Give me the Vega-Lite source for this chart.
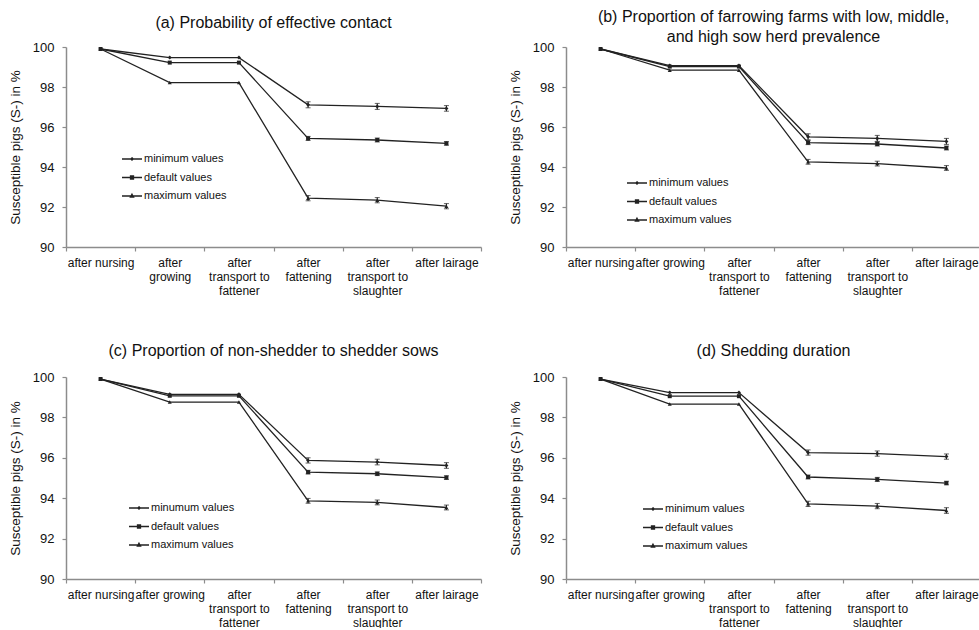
{
  "$schema": "https://vega.github.io/schema/vega-lite/v6.json",
  "background": "white",
  "padding": {"left": 8, "top": 9, "right": 0, "bottom": 0},
  "config": {
    "view": {"stroke": null},
    "font": "Liberation Sans",
    "axis": {"grid": false, "domainColor": "#8c8c8c", "domainWidth": 1.5, "tickColor": "#8c8c8c", "tickWidth": 1.2, "tickSize": 4, "labelColor": "#111", "titleColor": "#111", "titleFontWeight": "normal", "labelFont": "Liberation Sans", "titleFont": "Liberation Sans"},
    "axisY": {"labelFontSize": 13, "titleFontSize": 13.5, "labelPadding": 8, "titlePadding": 10, "values": [90, 92, 94, 96, 98, 100]},
    "axisX": {"labelFontSize": 12, "labelAngle": 0, "labelPadding": 6, "labelLineHeight": 14, "labelBaseline": "top", "tickBand": "extent", "labelOverlap": false, "title": null},
    "title": {"fontSize": 16, "fontWeight": "normal", "font": "Liberation Sans", "color": "#111", "frame": "group", "anchor": "middle", "lineHeight": 20},
    "legend": {"title": null, "orient": "none", "symbolSize": 400, "symbolStrokeWidth": 1.3, "symbolFillColor": "#222", "symbolStrokeColor": "#222", "labelFontSize": 11, "labelFont": "Liberation Sans", "labelColor": "#111", "rowPadding": 2.5, "labelOffset": 1}
  },
  "datasets": {
    "a": [
      {"stage": "after nursing", "series": "minimum values", "value": 99.9},
      {"stage": "after growing", "series": "minimum values", "value": 99.47},
      {"stage": "after transport to fattener", "series": "minimum values", "value": 99.47},
      {"stage": "after fattening", "series": "minimum values", "value": 97.11, "lo": 96.96, "hi": 97.26},
      {"stage": "after transport to slaughter", "series": "minimum values", "value": 97.03, "lo": 96.88, "hi": 97.18},
      {"stage": "after lairage", "series": "minimum values", "value": 96.93, "lo": 96.79, "hi": 97.07},
      {"stage": "after nursing", "series": "default values", "value": 99.9},
      {"stage": "after growing", "series": "default values", "value": 99.22},
      {"stage": "after transport to fattener", "series": "default values", "value": 99.22},
      {"stage": "after fattening", "series": "default values", "value": 95.43, "lo": 95.33, "hi": 95.53},
      {"stage": "after transport to slaughter", "series": "default values", "value": 95.35, "lo": 95.25, "hi": 95.45},
      {"stage": "after lairage", "series": "default values", "value": 95.18, "lo": 95.09, "hi": 95.27},
      {"stage": "after nursing", "series": "maximum values", "value": 99.9},
      {"stage": "after growing", "series": "maximum values", "value": 98.22},
      {"stage": "after transport to fattener", "series": "maximum values", "value": 98.22},
      {"stage": "after fattening", "series": "maximum values", "value": 92.44, "lo": 92.31, "hi": 92.57},
      {"stage": "after transport to slaughter", "series": "maximum values", "value": 92.34, "lo": 92.21, "hi": 92.47},
      {"stage": "after lairage", "series": "maximum values", "value": 92.04, "lo": 91.91, "hi": 92.17}
    ],
    "b": [
      {"stage": "after nursing", "series": "minimum values", "value": 99.9},
      {"stage": "after growing", "series": "minimum values", "value": 99.07},
      {"stage": "after transport to fattener", "series": "minimum values", "value": 99.07},
      {"stage": "after fattening", "series": "minimum values", "value": 95.51, "lo": 95.36, "hi": 95.66},
      {"stage": "after transport to slaughter", "series": "minimum values", "value": 95.43, "lo": 95.28, "hi": 95.58},
      {"stage": "after lairage", "series": "minimum values", "value": 95.28, "lo": 95.13, "hi": 95.43},
      {"stage": "after nursing", "series": "default values", "value": 99.9},
      {"stage": "after growing", "series": "default values", "value": 99.02},
      {"stage": "after transport to fattener", "series": "default values", "value": 99.02},
      {"stage": "after fattening", "series": "default values", "value": 95.22, "lo": 95.12, "hi": 95.32},
      {"stage": "after transport to slaughter", "series": "default values", "value": 95.15, "lo": 95.05, "hi": 95.25},
      {"stage": "after lairage", "series": "default values", "value": 94.95, "lo": 94.85, "hi": 95.05},
      {"stage": "after nursing", "series": "maximum values", "value": 99.9},
      {"stage": "after growing", "series": "maximum values", "value": 98.84},
      {"stage": "after transport to fattener", "series": "maximum values", "value": 98.84},
      {"stage": "after fattening", "series": "maximum values", "value": 94.26, "lo": 94.14, "hi": 94.38},
      {"stage": "after transport to slaughter", "series": "maximum values", "value": 94.17, "lo": 94.05, "hi": 94.29},
      {"stage": "after lairage", "series": "maximum values", "value": 93.95, "lo": 93.83, "hi": 94.07}
    ],
    "c": [
      {"stage": "after nursing", "series": "minumum values", "value": 99.9},
      {"stage": "after growing", "series": "minumum values", "value": 99.14},
      {"stage": "after transport to fattener", "series": "minumum values", "value": 99.14},
      {"stage": "after fattening", "series": "minumum values", "value": 95.87, "lo": 95.74, "hi": 96.0},
      {"stage": "after transport to slaughter", "series": "minumum values", "value": 95.79, "lo": 95.65, "hi": 95.93},
      {"stage": "after lairage", "series": "minumum values", "value": 95.62, "lo": 95.48, "hi": 95.76},
      {"stage": "after nursing", "series": "default values", "value": 99.9},
      {"stage": "after growing", "series": "default values", "value": 99.07},
      {"stage": "after transport to fattener", "series": "default values", "value": 99.07},
      {"stage": "after fattening", "series": "default values", "value": 95.29, "lo": 95.2, "hi": 95.38},
      {"stage": "after transport to slaughter", "series": "default values", "value": 95.21, "lo": 95.12, "hi": 95.3},
      {"stage": "after lairage", "series": "default values", "value": 95.02, "lo": 94.93, "hi": 95.11},
      {"stage": "after nursing", "series": "maximum values", "value": 99.9},
      {"stage": "after growing", "series": "maximum values", "value": 98.76},
      {"stage": "after transport to fattener", "series": "maximum values", "value": 98.76},
      {"stage": "after fattening", "series": "maximum values", "value": 93.87, "lo": 93.75, "hi": 93.99},
      {"stage": "after transport to slaughter", "series": "maximum values", "value": 93.79, "lo": 93.67, "hi": 93.91},
      {"stage": "after lairage", "series": "maximum values", "value": 93.54, "lo": 93.42, "hi": 93.66}
    ],
    "d": [
      {"stage": "after nursing", "series": "minimum values", "value": 99.9},
      {"stage": "after growing", "series": "minimum values", "value": 99.23},
      {"stage": "after transport to fattener", "series": "minimum values", "value": 99.23},
      {"stage": "after fattening", "series": "minimum values", "value": 96.26, "lo": 96.13, "hi": 96.39},
      {"stage": "after transport to slaughter", "series": "minimum values", "value": 96.21, "lo": 96.08, "hi": 96.34},
      {"stage": "after lairage", "series": "minimum values", "value": 96.06, "lo": 95.93, "hi": 96.19},
      {"stage": "after nursing", "series": "default values", "value": 99.9},
      {"stage": "after growing", "series": "default values", "value": 99.05},
      {"stage": "after transport to fattener", "series": "default values", "value": 99.05},
      {"stage": "after fattening", "series": "default values", "value": 95.05, "lo": 94.95, "hi": 95.15},
      {"stage": "after transport to slaughter", "series": "default values", "value": 94.93, "lo": 94.83, "hi": 95.03},
      {"stage": "after lairage", "series": "default values", "value": 94.75, "lo": 94.66, "hi": 94.84},
      {"stage": "after nursing", "series": "maximum values", "value": 99.9},
      {"stage": "after growing", "series": "maximum values", "value": 98.66},
      {"stage": "after transport to fattener", "series": "maximum values", "value": 98.66},
      {"stage": "after fattening", "series": "maximum values", "value": 93.72, "lo": 93.59, "hi": 93.85},
      {"stage": "after transport to slaughter", "series": "maximum values", "value": 93.61, "lo": 93.48, "hi": 93.74},
      {"stage": "after lairage", "series": "maximum values", "value": 93.39, "lo": 93.25, "hi": 93.53}
    ]
  },
  "columns": 2,
  "spacing": {"row": 47, "column": 26},
  "resolve": {"scale": {"x": "independent", "y": "independent", "shape": "independent"}, "legend": {"shape": "independent"}},
  "concat": [
    {
      "title": {"text": "(a) Probability of effective contact", "offset": 10},
      "width": 415, "height": 200,
      "data": {"name": "a"},
      "encoding": {
        "x": {"field": "stage", "type": "nominal", "sort": ["after nursing", "after growing", "after transport to fattener", "after fattening", "after transport to slaughter", "after lairage"], "scale": {"paddingInner": 0, "paddingOuter": 0},
          "axis": {"labelExpr": "datum.value == 'after growing' ? ['after', 'growing'] : datum.value == 'after transport to fattener' ? ['after', 'transport to', 'fattener'] : datum.value == 'after fattening' ? ['after', 'fattening'] : datum.value == 'after transport to slaughter' ? ['after', 'transport to', 'slaughter'] : datum.value"}}
      },
      "resolve": {"scale": {"shape": "independent"}, "legend": {"shape": "independent"}},
      "layer": [
        {"mark": {"type": "line", "color": "#222", "strokeWidth": 1.3},
         "encoding": {"y": {"field": "value", "type": "quantitative", "scale": {"domain": [90, 100]}, "axis": {"title": "Susceptible pigs (S-) in %"}}, "detail": {"field": "series"}}},
        {"transform": [{"filter": "isValid(datum.lo)"}],
         "mark": {"type": "errorbar", "color": "#222", "ticks": {"size": 5}, "rule": {"strokeWidth": 1.2}},
         "encoding": {"y": {"field": "lo", "type": "quantitative", "scale": {"domain": [90, 100]}, "title": "Susceptible pigs (S-) in %"}, "y2": {"field": "hi"}, "detail": {"field": "series"}}},
        {"mark": {"type": "point", "filled": true, "color": "#222", "opacity": 1, "size": 16},
         "encoding": {"y": {"field": "value", "type": "quantitative"}, "shape": {"field": "series", "type": "nominal", "scale": {"domain": ["minimum values", "default values", "maximum values"], "range": ["diamond", "square", "triangle-up"]}, "legend": null}}},
        {"transform": [{"filter": "datum.series == 'none'"}],
         "mark": {"type": "point", "filled": false, "color": "#222", "opacity": 1, "strokeWidth": 1.3, "size": 400},
         "encoding": {"y": {"field": "value", "type": "quantitative"}, "shape": {"field": "series", "type": "nominal", "scale": {"domain": ["minimum values", "default values", "maximum values"], "range": ["M-1,0H1M0,-0.12L0.12,0L0,0.12L-0.12,0Z", "M-1,0H1M-0.15,-0.15H0.15V0.15H-0.15Z", "M-1,0H1M0,-0.18L0.16,0.12H-0.16Z"]}, "legend": {"legendX": 55, "legendY": 101, "encode": {"symbols": {"update": {"stroke": {"value": "#222"}, "strokeWidth": {"value": 1.3}, "fill": {"value": "#222"}, "opacity": {"value": 1}}}}}}}}
      ]
    },
    {
      "title": {"text": ["(b) Proportion of farrowing farms with low, middle,", "and high sow herd prevalence"], "offset": -4},
      "width": 415, "height": 200,
      "data": {"name": "b"},
      "encoding": {
        "x": {"field": "stage", "type": "nominal", "sort": ["after nursing", "after growing", "after transport to fattener", "after fattening", "after transport to slaughter", "after lairage"], "scale": {"paddingInner": 0, "paddingOuter": 0},
          "axis": {"labelExpr": "datum.value == 'after transport to fattener' ? ['after', 'transport to', 'fattener'] : datum.value == 'after fattening' ? ['after', 'fattening'] : datum.value == 'after transport to slaughter' ? ['after', 'transport to', 'slaughter'] : datum.value"}}
      },
      "resolve": {"scale": {"shape": "independent"}, "legend": {"shape": "independent"}},
      "layer": [
        {"mark": {"type": "line", "color": "#222", "strokeWidth": 1.3},
         "encoding": {"y": {"field": "value", "type": "quantitative", "scale": {"domain": [90, 100]}, "axis": {"title": "Susceptible pigs (S-) in %"}}, "detail": {"field": "series"}}},
        {"transform": [{"filter": "isValid(datum.lo)"}],
         "mark": {"type": "errorbar", "color": "#222", "ticks": {"size": 5}, "rule": {"strokeWidth": 1.2}},
         "encoding": {"y": {"field": "lo", "type": "quantitative", "scale": {"domain": [90, 100]}, "title": "Susceptible pigs (S-) in %"}, "y2": {"field": "hi"}, "detail": {"field": "series"}}},
        {"mark": {"type": "point", "filled": true, "color": "#222", "opacity": 1, "size": 16},
         "encoding": {"y": {"field": "value", "type": "quantitative"}, "shape": {"field": "series", "type": "nominal", "scale": {"domain": ["minimum values", "default values", "maximum values"], "range": ["diamond", "square", "triangle-up"]}, "legend": null}}},
        {"transform": [{"filter": "datum.series == 'none'"}],
         "mark": {"type": "point", "filled": false, "color": "#222", "opacity": 1, "strokeWidth": 1.3, "size": 400},
         "encoding": {"y": {"field": "value", "type": "quantitative"}, "shape": {"field": "series", "type": "nominal", "scale": {"domain": ["minimum values", "default values", "maximum values"], "range": ["M-1,0H1M0,-0.12L0.12,0L0,0.12L-0.12,0Z", "M-1,0H1M-0.15,-0.15H0.15V0.15H-0.15Z", "M-1,0H1M0,-0.18L0.16,0.12H-0.16Z"]}, "legend": {"legendX": 60, "legendY": 125, "encode": {"symbols": {"update": {"stroke": {"value": "#222"}, "strokeWidth": {"value": 1.3}, "fill": {"value": "#222"}, "opacity": {"value": 1}}}}}}}}
      ]
    },
    {
      "title": {"text": "(c) Proportion of non-shedder to shedder sows", "offset": 12},
      "width": 415, "height": 202,
      "data": {"name": "c"},
      "encoding": {
        "x": {"field": "stage", "type": "nominal", "sort": ["after nursing", "after growing", "after transport to fattener", "after fattening", "after transport to slaughter", "after lairage"], "scale": {"paddingInner": 0, "paddingOuter": 0},
          "axis": {"labelExpr": "datum.value == 'after transport to fattener' ? ['after', 'transport to', 'fattener'] : datum.value == 'after fattening' ? ['after', 'fattening'] : datum.value == 'after transport to slaughter' ? ['after', 'transport to', 'slaughter'] : datum.value"}}
      },
      "resolve": {"scale": {"shape": "independent"}, "legend": {"shape": "independent"}},
      "layer": [
        {"mark": {"type": "line", "color": "#222", "strokeWidth": 1.3},
         "encoding": {"y": {"field": "value", "type": "quantitative", "scale": {"domain": [90, 100]}, "axis": {"title": "Susceptible pigs (S-) in %"}}, "detail": {"field": "series"}}},
        {"transform": [{"filter": "isValid(datum.lo)"}],
         "mark": {"type": "errorbar", "color": "#222", "ticks": {"size": 5}, "rule": {"strokeWidth": 1.2}},
         "encoding": {"y": {"field": "lo", "type": "quantitative", "scale": {"domain": [90, 100]}, "title": "Susceptible pigs (S-) in %"}, "y2": {"field": "hi"}, "detail": {"field": "series"}}},
        {"mark": {"type": "point", "filled": true, "color": "#222", "opacity": 1, "size": 16},
         "encoding": {"y": {"field": "value", "type": "quantitative"}, "shape": {"field": "series", "type": "nominal", "scale": {"domain": ["minumum values", "default values", "maximum values"], "range": ["diamond", "square", "triangle-up"]}, "legend": null}}},
        {"transform": [{"filter": "datum.series == 'none'"}],
         "mark": {"type": "point", "filled": false, "color": "#222", "opacity": 1, "strokeWidth": 1.3, "size": 400},
         "encoding": {"y": {"field": "value", "type": "quantitative"}, "shape": {"field": "series", "type": "nominal", "scale": {"domain": ["minumum values", "default values", "maximum values"], "range": ["M-1,0H1M0,-0.12L0.12,0L0,0.12L-0.12,0Z", "M-1,0H1M-0.15,-0.15H0.15V0.15H-0.15Z", "M-1,0H1M0,-0.18L0.16,0.12H-0.16Z"]}, "legend": {"legendX": 62, "legendY": 120, "encode": {"symbols": {"update": {"stroke": {"value": "#222"}, "strokeWidth": {"value": 1.3}, "fill": {"value": "#222"}, "opacity": {"value": 1}}}}}}}}
      ]
    },
    {
      "title": {"text": "(d) Shedding duration", "offset": 12},
      "width": 415, "height": 202,
      "data": {"name": "d"},
      "encoding": {
        "x": {"field": "stage", "type": "nominal", "sort": ["after nursing", "after growing", "after transport to fattener", "after fattening", "after transport to slaughter", "after lairage"], "scale": {"paddingInner": 0, "paddingOuter": 0},
          "axis": {"labelExpr": "datum.value == 'after transport to fattener' ? ['after', 'transport to', 'fattener'] : datum.value == 'after fattening' ? ['after', 'fattening'] : datum.value == 'after transport to slaughter' ? ['after', 'transport to', 'slaughter'] : datum.value"}}
      },
      "resolve": {"scale": {"shape": "independent"}, "legend": {"shape": "independent"}},
      "layer": [
        {"mark": {"type": "line", "color": "#222", "strokeWidth": 1.3},
         "encoding": {"y": {"field": "value", "type": "quantitative", "scale": {"domain": [90, 100]}, "axis": {"title": "Susceptible pigs (S-) in %"}}, "detail": {"field": "series"}}},
        {"transform": [{"filter": "isValid(datum.lo)"}],
         "mark": {"type": "errorbar", "color": "#222", "ticks": {"size": 5}, "rule": {"strokeWidth": 1.2}},
         "encoding": {"y": {"field": "lo", "type": "quantitative", "scale": {"domain": [90, 100]}, "title": "Susceptible pigs (S-) in %"}, "y2": {"field": "hi"}, "detail": {"field": "series"}}},
        {"mark": {"type": "point", "filled": true, "color": "#222", "opacity": 1, "size": 16},
         "encoding": {"y": {"field": "value", "type": "quantitative"}, "shape": {"field": "series", "type": "nominal", "scale": {"domain": ["minimum values", "default values", "maximum values"], "range": ["diamond", "square", "triangle-up"]}, "legend": null}}},
        {"transform": [{"filter": "datum.series == 'none'"}],
         "mark": {"type": "point", "filled": false, "color": "#222", "opacity": 1, "strokeWidth": 1.3, "size": 400},
         "encoding": {"y": {"field": "value", "type": "quantitative"}, "shape": {"field": "series", "type": "nominal", "scale": {"domain": ["minimum values", "default values", "maximum values"], "range": ["M-1,0H1M0,-0.12L0.12,0L0,0.12L-0.12,0Z", "M-1,0H1M-0.15,-0.15H0.15V0.15H-0.15Z", "M-1,0H1M0,-0.18L0.16,0.12H-0.16Z"]}, "legend": {"legendX": 76, "legendY": 121, "encode": {"symbols": {"update": {"stroke": {"value": "#222"}, "strokeWidth": {"value": 1.3}, "fill": {"value": "#222"}, "opacity": {"value": 1}}}}}}}}
      ]
    }
  ]
}
